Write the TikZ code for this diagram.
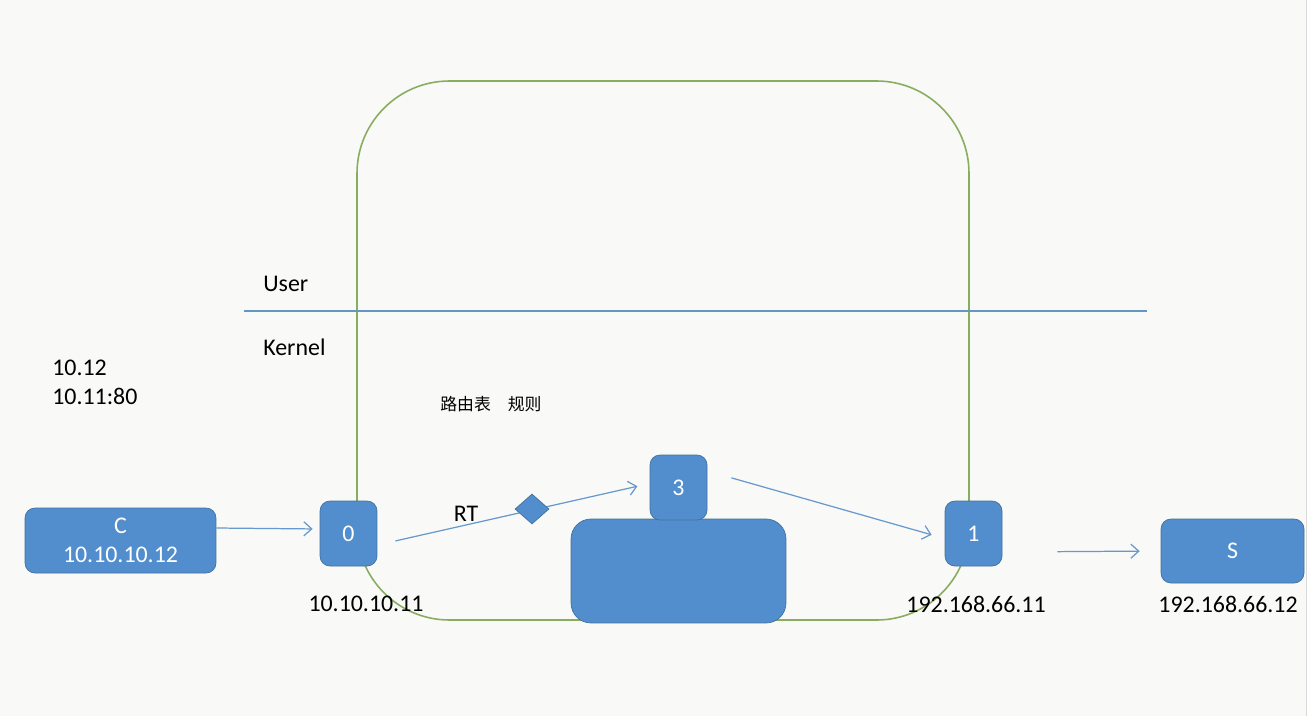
\documentclass[tikz,border=0pt]{standalone}
\usepackage{fontspec}
\setmainfont{Carlito}
\newfontfamily\cjk{Noto Sans CJK SC}
\usetikzlibrary{arrows.meta,shapes.geometric}
\definecolor{boxblue}{RGB}{82,142,206}
\definecolor{boxedge}{RGB}{65,113,156}
\definecolor{linkblue}{RGB}{102,153,204}
\definecolor{sepblue}{RGB}{100,150,195}
\definecolor{nsgreen}{RGB}{137,173,94}
\definecolor{bgpage}{RGB}{249,249,247}

\begin{document}
\begin{tikzpicture}[x=0.02cm,y=-0.02cm,>={Straight Barb[length=4.5pt,width=8pt]},font=\fontsize{13.6}{16.4}\selectfont]
\tikzstyle{box}=[draw=boxedge, fill=boxblue, text=white, rounded corners=0.2cm, minimum width=1.14cm, minimum height=1.3cm, inner sep=0pt]
\tikzstyle{host}=[box, align=center]
\tikzstyle{link}=[->, draw=linkblue, line width=0.7pt]
\tikzstyle{lbl}=[inner sep=0pt]

% canvas
\useasboundingbox (0,0) rectangle (1311,720);
\fill[bgpage] (0,0) rectangle (1306,716);
\draw[black!15, line width=1pt] (1306.5,0) -- (1306.5,716);

% namespace boundary
\draw[nsgreen, line width=0.9pt, rounded corners=1.85cm] (357,81) rectangle (969,620);

% user / kernel split
\draw[sepblue, line width=0.8pt] (244,311) -- (1147,311);
\node[lbl, anchor=west] (user) at (263,284) {User};
\node[lbl, anchor=west] (kernel) at (263,347) {Kernel};

% request
\node[lbl, anchor=west, align=left] (req) at (52,382.5) {10.12\\10.11:80};
\node[lbl, anchor=west, font=\cjk\fontsize{9.6}{12}\selectfont] (rules) at (440,404) {路由表　规则};

% hosts and interfaces
\node[host, minimum width=3.82cm] (c) at (120.5,540.5) {C\\10.10.10.12};
\node[box] (n0) at (348.5,533.5) {0};
\node[box, minimum width=4.3cm, minimum height=2.08cm, rounded corners=0.4cm] (stack) at (678.5,571) {};
\node[box] (n3) at (678.5,487.5) {3};
\node[box] (n1) at (973.5,533.5) {1};
\node[host, minimum width=2.86cm, minimum height=1.28cm] (s) at (1232.5,551) {S};

% addresses
\node[lbl] (ip0) at (366,604) {10.10.10.11};
\node[lbl] (ip1) at (976,604) {192.168.66.11};
\node[lbl] (ips) at (1228,604) {192.168.66.12};

% links
\draw[link, shorten >=0.14cm] ([yshift=0.25cm]c.east) -- ([yshift=0.09cm]n0.west);
\draw[link, shorten <=0.37cm, shorten >=0.25cm] ([yshift=-0.23cm]n0.east) -- ([yshift=0.08cm]n3.west);
\draw[link, shorten <=0.5cm, shorten >=0.27cm] ([yshift=0.33cm]n3.east) -- ([yshift=-0.1cm]n1.west);
\draw[link, shorten <=1.1cm, shorten >=0.42cm] ([yshift=-0.37cm]n1.east) -- (s.west);

% routing decision
\node[diamond, draw=boxedge, fill=boxblue, minimum width=0.68cm, minimum height=0.6cm, inner sep=0pt] (rt) at (532,509) {};
\node[lbl] (rtlbl) at (466,514) {RT};

\end{tikzpicture}
\end{document}
